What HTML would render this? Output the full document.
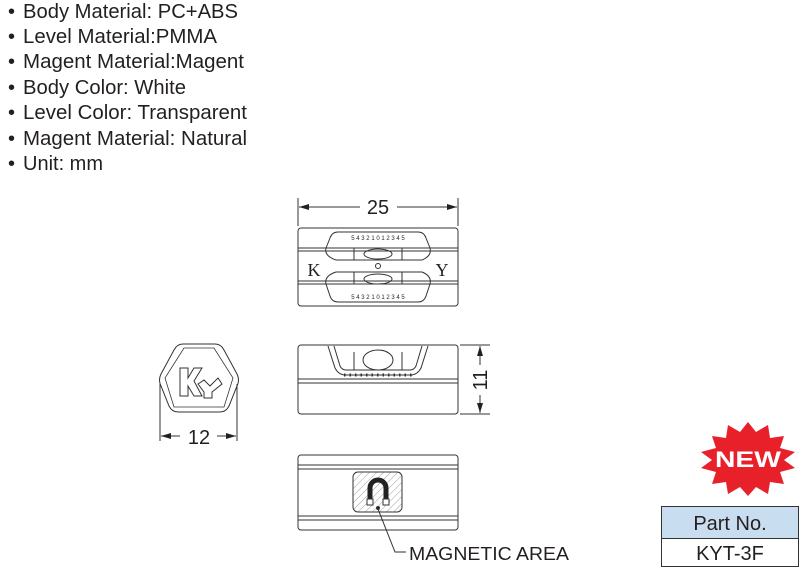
<!DOCTYPE html>
<html><head><meta charset="utf-8"><style>
html,body{margin:0;padding:0;background:#fff;}
svg{display:block;font-family:"Liberation Sans",sans-serif;}
</style></head><body>
<svg width="800" height="568" viewBox="0 0 800 568" xmlns="http://www.w3.org/2000/svg">
<defs>
<pattern id="h" width="5" height="5" patternUnits="userSpaceOnUse" patternTransform="rotate(45)">
<line x1="0" y1="0" x2="0" y2="5" stroke="#888" stroke-width="0.8"/></pattern>
<marker id="a" markerWidth="10" markerHeight="6" refX="10" refY="3" orient="auto"><path d="M0,0 L10,3 L0,6 Z" fill="#222"/></marker>
</defs>
<g fill="#231f20" font-size="20">
<g font-size="20">
<text x="8" y="18">•</text><text x="23" y="18" textLength="215" lengthAdjust="spacingAndGlyphs">Body Material: PC+ABS</text>
<text x="8" y="43">•</text><text x="23" y="43" textLength="194" lengthAdjust="spacingAndGlyphs">Level Material:PMMA</text>
<text x="8" y="68">•</text><text x="23" y="68" textLength="221" lengthAdjust="spacingAndGlyphs">Magent Material:Magent</text>
<text x="8" y="94">•</text><text x="23" y="94" textLength="163" lengthAdjust="spacingAndGlyphs">Body Color: White</text>
<text x="8" y="119">•</text><text x="23" y="119" textLength="224" lengthAdjust="spacingAndGlyphs">Level Color: Transparent</text>
<text x="8" y="145">•</text><text x="23" y="145" textLength="224" lengthAdjust="spacingAndGlyphs">Magent Material: Natural</text>
<text x="8" y="170">•</text><text x="23" y="170" textLength="80" lengthAdjust="spacingAndGlyphs">Unit: mm</text>
</g>
</g>
<g fill="none" stroke="#333" stroke-width="1">
<!-- dim 25 -->
<line x1="298" y1="198" x2="298" y2="226"/><line x1="458" y1="198" x2="458" y2="226"/>
<line x1="360" y1="207" x2="299" y2="207" marker-end="url(#a)"/>
<line x1="397" y1="207" x2="457" y2="207" marker-end="url(#a)"/>
<!-- top view -->
<rect x="298" y="228" width="160" height="78" rx="3"/>
<line x1="298" y1="248" x2="458" y2="248"/><line x1="298" y1="251" x2="458" y2="251"/>
<line x1="298" y1="281" x2="458" y2="281"/><line x1="298" y1="284" x2="458" y2="284"/>
<path d="M338,232 L418,232 Q424,232 426,238 L430,248 Q432,256 422,260 L336,260 Q324,256 326,248 L330,238 Q332,232 338,232 Z"/>
<path d="M336,272 L422,272 Q432,276 430,284 L426,296 Q424,302 418,302 L338,302 Q332,302 330,296 L326,284 Q324,276 336,272 Z"/>
<circle cx="378" cy="266" r="2.5"/>
<ellipse cx="378" cy="254" rx="14" ry="5"/><ellipse cx="378" cy="279" rx="14" ry="5"/>
<line x1="354" y1="248" x2="354" y2="260"/><line x1="402" y1="248" x2="402" y2="260"/>
<line x1="354" y1="272" x2="354" y2="284"/><line x1="402" y1="272" x2="402" y2="284"/>
<!-- front view -->
<rect x="298" y="345" width="160" height="69" rx="3"/>
<line x1="298" y1="379" x2="458" y2="379"/><line x1="298" y1="383" x2="458" y2="383"/>
<path d="M328,346 L335,368 Q338,374 344,375 L412,375 Q418,374 421,368 L428,346"/>
<path d="M334,346 L340,366 Q342,370 346,370 L410,370 Q414,370 416,366 L422,346"/>
<ellipse cx="378" cy="360" rx="15" ry="10"/>
<line x1="354" y1="352" x2="354" y2="370"/><line x1="402" y1="352" x2="402" y2="370"/>
<line x1="344" y1="375" x2="412" y2="375" stroke-dasharray="1.5 4" stroke-width="3"/>
<!-- dim 11 -->
<line x1="460" y1="345" x2="490" y2="345"/><line x1="460" y1="414" x2="490" y2="414"/>
<line x1="480" y1="365" x2="480" y2="346" marker-end="url(#a)"/>
<line x1="480" y1="395" x2="480" y2="413" marker-end="url(#a)"/>
<!-- hexagon -->
<path d="M183,344 L215,344 Q221,344 224,350 L237,374 Q240,380 237,386 L229,406 Q226,412 220,412 L178,412 Q172,412 169,406 L161,386 Q158,380 161,374 L174,350 Q177,344 183,344 Z"/>
<path d="M184,348 L214,348 L233,378 L224,407 L174,407 L165,378 Z" stroke-width="0.8"/>
<path d="M180,368 L188,368 L188,378 L194,368 L202,368 L194,381 L202,396 L194,396 L188,386 L188,396 L180,396 Z"/>
<path d="M198,384 L204,380 L210,386 L218,378 L222,384 L212,392 L212,398 L204,398 L204,392 Z"/>
<line x1="160" y1="384" x2="160" y2="441"/><line x1="237" y1="384" x2="237" y2="441"/>
<line x1="180" y1="436" x2="161" y2="436" marker-end="url(#a)"/>
<line x1="217" y1="436" x2="236" y2="436" marker-end="url(#a)"/>
<!-- side view -->
<rect x="298" y="455" width="160" height="75" rx="3"/>
<line x1="298" y1="465" x2="458" y2="465"/><line x1="298" y1="469" x2="458" y2="469"/>
<line x1="298" y1="516" x2="458" y2="516"/><line x1="298" y1="520" x2="458" y2="520"/>
<rect x="353" y="472" width="49" height="40" rx="5" fill="url(#h)"/>
<path d="M370,499 L370,488 A8,8 0 0 1 386,488 L386,499" stroke="#222" stroke-width="5"/>
<rect x="367" y="499" width="6" height="6" fill="#fff"/><rect x="383" y="499" width="6" height="6" fill="#fff"/>
<circle cx="378" cy="508" r="1.5" fill="#222"/>
<polyline points="378,509 395,552 406,552"/>
</g>
<g fill="#231f20">
<text x="378" y="214" font-size="20" text-anchor="middle">25</text>
<text x="199" y="444" font-size="20" text-anchor="middle">12</text>
<text transform="translate(487,380) rotate(-90)" font-size="20" text-anchor="middle">11</text>
<text x="409" y="560" font-size="18" textLength="160" lengthAdjust="spacingAndGlyphs">MAGNETIC AREA</text>
<text x="314" y="276" font-family="Liberation Serif" font-size="18" text-anchor="middle">K</text>
<text x="442" y="276" font-family="Liberation Serif" font-size="18" text-anchor="middle">Y</text>
<text x="378" y="240" font-size="6" text-anchor="middle">5 4 3 2 1 0 1 2 3 4 5</text>
<text x="378" y="299" font-size="6" text-anchor="middle">5 4 3 2 1 0 1 2 3 4 5</text>
</g>
<!-- NEW starburst -->
<polygon fill="#e8202a" points="748,422 756,432 768,425 770,438 784,436 780,448 795,452 784,460 795,468 780,472 784,484 770,482 768,494 756,487 748,496 740,487 728,494 726,482 712,484 716,472 701,468 712,460 701,452 716,448 712,436 726,438 728,425 740,432"/>
<text x="748" y="467" font-size="22" font-weight="bold" fill="#fff" text-anchor="middle" textLength="66" lengthAdjust="spacingAndGlyphs">NEW</text>
<!-- Part No -->
<rect x="661.5" y="506.5" width="137" height="32" fill="#c9ddf0" stroke="#333"/>
<rect x="661.5" y="538.5" width="137" height="28" fill="#fff" stroke="#333"/>
<text x="730" y="530" font-size="20" text-anchor="middle" fill="#231f20">Part No.</text>
<text x="730" y="560" font-size="20" text-anchor="middle" fill="#231f20">KYT-3F</text>
</svg>
</body></html>
